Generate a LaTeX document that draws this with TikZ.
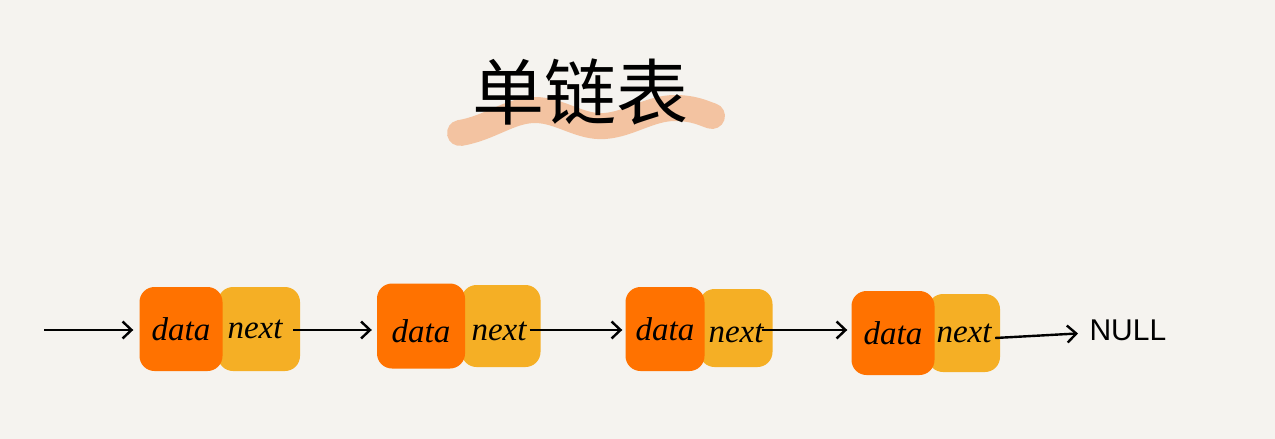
\documentclass[tikz,border=0pt]{standalone}
\usepackage{fontspec}
\newfontfamily\cjk{Noto Sans CJK SC}
\newfontfamily\handfont{Liberation Serif}
\usetikzlibrary{arrows.meta}
\definecolor{bg}{HTML}{F5F3EF}
\definecolor{dataorange}{HTML}{FF7200}
\definecolor{nextamber}{HTML}{F5AF25}
\definecolor{brush}{HTML}{F2A46E}
\tikzset{
  cell/.style={rectangle, rounded corners=15pt, inner sep=0pt, font=\handfont\itshape\fontsize{33}{33}\selectfont},
  datacell/.style={cell, fill=dataorange},
  nextcell/.style={cell, fill=nextamber},
  link/.style={line width=2.4pt, -{Straight Barb[length=9pt,width=17pt,line width=2.4pt]}},
}
\newcommand{\lowered}[1]{\raisebox{-5pt}[\height][\depth]{#1}}
\begin{document}
\begin{tikzpicture}[x=1pt,y=-1pt]
\fill[bg] (0,0) rectangle (1275,439);
\useasboundingbox (0,0) rectangle (1275,439);
% brush stroke under title
\draw[brush, opacity=0.6, line width=26pt, line cap=round, line join=round]
  (460,133) .. controls (490,128) and (510,110) .. (535,110)
  .. controls (560,110) and (580,128) .. (605,126)
  .. controls (630,124) and (650,108) .. (675,108)
  .. controls (695,108) and (705,114) .. (712,116);
\node[font=\cjk\fontsize{72}{72}\selectfont] (title) at (580,92) {单链表};
% nodes
\node[nextcell, minimum width=82pt, minimum height=84pt] (n1) at (259,329) {\hspace*{-8pt}next};
\node[datacell, minimum width=83pt, minimum height=84pt] (d1) at (181,329) {data};
\node[nextcell, minimum width=79pt, minimum height=82pt] (n2) at (501,326) {\hspace*{-4pt}\lowered{next}};
\node[datacell, minimum width=88pt, minimum height=85pt] (d2) at (421,326) {\lowered{data}};
\node[nextcell, minimum width=73pt, minimum height=78pt] (n3) at (736,328) {\lowered{next}};
\node[datacell, minimum width=79pt, minimum height=84pt] (d3) at (665,329) {data};
\node[nextcell, minimum width=72pt, minimum height=78pt] (n4) at (964,333) {next};
\node[datacell, minimum width=83pt, minimum height=84pt] (d4) at (893,333) {data};
\node[font=\fontspec{Liberation Sans}\fontsize{30}{30}\selectfont, anchor=west] (null) at (1086,330) {NULL};
\coordinate (start) at (44,330);
% links
\draw[link, shorten >=6pt] (start) -- (d1.west |- start);
\draw[link, shorten >=5pt] ([xshift=-7pt]n1.east |- start) -- (d2.west |- start);
\draw[link, shorten >=3pt] ([xshift=-11pt]n2.east |- start) -- (d3.west |- start);
\draw[link, shorten >=4pt] ([xshift=-11pt]n3.east |- start) -- (d4.west |- start);
\draw[link, shorten >=8pt] ([xshift=-5pt,yshift=-5pt]n4.east) -- ([yshift=-3pt]null.west);
\end{tikzpicture}
\end{document}
